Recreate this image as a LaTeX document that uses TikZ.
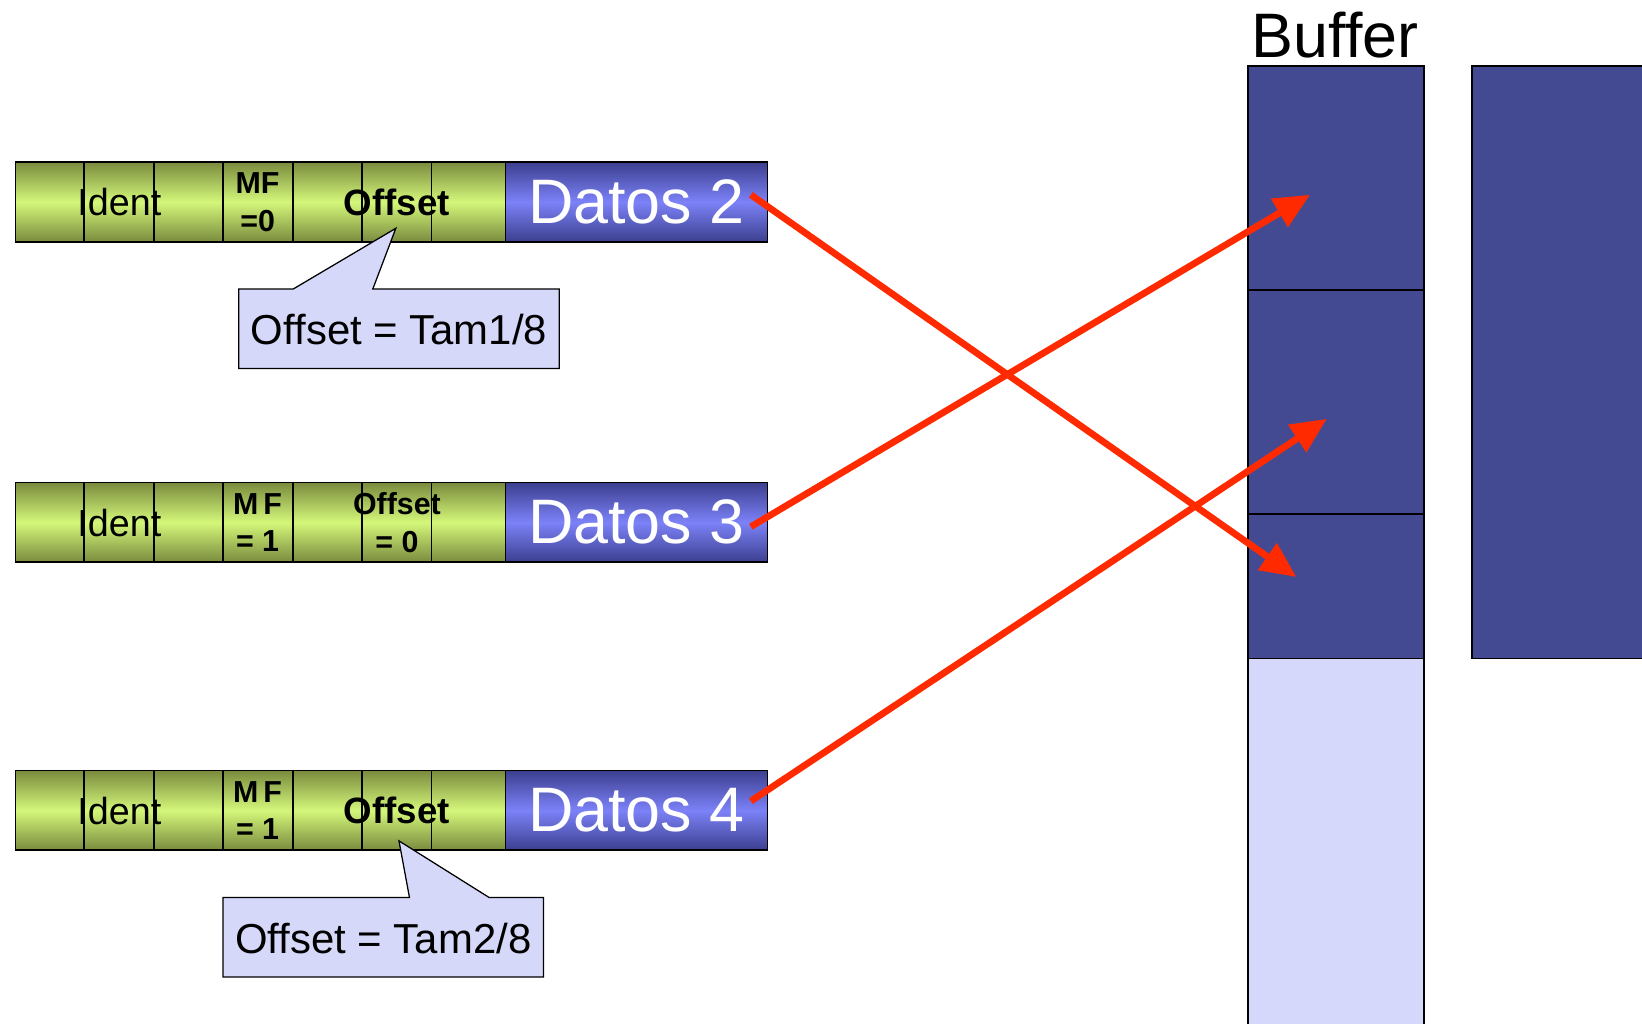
\documentclass[tikz,border=0pt]{standalone}
\usepackage{fontspec}
\setmainfont{Liberation Sans}
\usetikzlibrary{arrows.meta}
\definecolor{olivedark}{HTML}{7A8B3E}
\definecolor{greenlight}{HTML}{D4F77A}
\definecolor{bluedark}{HTML}{3C3F8E}
\definecolor{bluelight}{HTML}{7C82F8}
\definecolor{bufdark}{HTML}{444A92}
\definecolor{buflight}{HTML}{D5D8FA}
\definecolor{callfill}{HTML}{D6D8FA}
\definecolor{arrowred}{HTML}{FF2A00}
\begin{document}
\begin{tikzpicture}[x=0.5pt,y=-0.5pt,
  hdr/.style={draw=black, line width=0.8pt, minimum width=234pt, minimum height=38pt,
    inner sep=0pt, top color=olivedark, bottom color=olivedark, middle color=greenlight, anchor=north west},
  datbox/.style={draw=black, line width=0.8pt, minimum width=125pt, minimum height=38pt,
    inner sep=0pt, top color=bluedark, bottom color=bluedark, middle color=bluelight,
    anchor=north west, text=white, font=\fontsize{30}{30}\selectfont},
  divline/.style={draw=black, line width=0.8pt},
  lbl/.style={inner sep=0pt, font=\fontsize{18}{18}\selectfont},
  blbl/.style={inner sep=0pt, font=\bfseries\fontsize{17.5}{17.5}\selectfont},
  slbl/.style={inner sep=0pt, align=center, font=\bfseries\fontsize{14.5}{18}\selectfont},
  callout/.style={draw=black, line width=0.6pt, fill=callfill},
  calltext/.style={inner sep=0pt, font=\fontsize{20}{20}\selectfont},
  bufseg/.style={draw=black, line width=0.8pt, fill=bufdark, inner sep=0pt, anchor=north west, minimum width=84pt},
  redarrow/.style={draw=arrowred, line width=3.2pt, -{Triangle[length=17pt,width=15pt]}}
]
\useasboundingbox (0,0) rectangle (1568,977);

% ---- packets ----
\foreach \r/\y/\n in {2/154/2, 3/460/3, 4/735/4}{
  \node[hdr] (h\r) at (14,\y) {};
  \node[datbox] (d\r) at (482,\y) {Datos \n};
  \foreach \x in {80,147,213,280,346,412}{
    \draw[divline] (\x,\y) -- (\x,\y+76);
  }
}

% row 2 labels
\node[lbl] (id2) at (114,193) {Ident};
\node[slbl] (mf2) at (246,193) {MF\\=0};
\node[blbl] (of2) at (379,193) {Offset};
% row 3 labels
\node[lbl] (id3) at (114,499) {Ident};
\node[slbl] (mf3) at (246,499) {M\,F\\= 1};
\node[slbl] (of3) at (379,499) {Offset\\= 0};
% row 4 labels
\node[lbl] (id4) at (114,774) {Ident};
\node[slbl] (mf4) at (246,774) {M\,F\\= 1};
\node[blbl] (of4) at (379,774) {Offset};

% ---- callouts ----
\draw[callout] (228,276) -- (280,276) -- (378,218) -- (356,276) -- (534,276)
  -- (534,352) -- (228,352) -- cycle;
\node[calltext] (c1) at (381,315) {Offset = Tam1/8};
\draw[callout] (213,857) -- (391,857) -- (381,803) -- (467,857) -- (519,857)
  -- (519,933) -- (213,933) -- cycle;
\node[calltext] (c2) at (366,896) {Offset = Tam2/8};

% ---- buffer ----
\node[inner sep=0pt, font=\fontsize{30}{30}\selectfont, anchor=base] (buftitle) at (1275,55) {Buffer};
\node[bufseg, minimum height=107pt] (b1) at (1191,62) {};
\node[bufseg, minimum height=107pt] (b2) at (1191,276) {};
\node[bufseg, minimum height=69pt] (b3) at (1191,490) {};
\node[bufseg, fill=buflight, minimum height=190pt] (b4) at (1191,628) {};
\node[bufseg, minimum width=110pt, minimum height=283pt] (rb) at (1405,62) {};

% ---- arrows ----
\coordinate (s2) at (717,186);
\coordinate (s3) at (717,503);
\coordinate (s4) at (717,765);
\coordinate (t2) at (1238,551);
\coordinate (t3) at (1251,186);
\coordinate (t4) at (1267,400);
\draw[redarrow] (s2) -- (t2);
\draw[redarrow] (s3) -- (t3);
\draw[redarrow] (s4) -- (t4);
\end{tikzpicture}
\end{document}
